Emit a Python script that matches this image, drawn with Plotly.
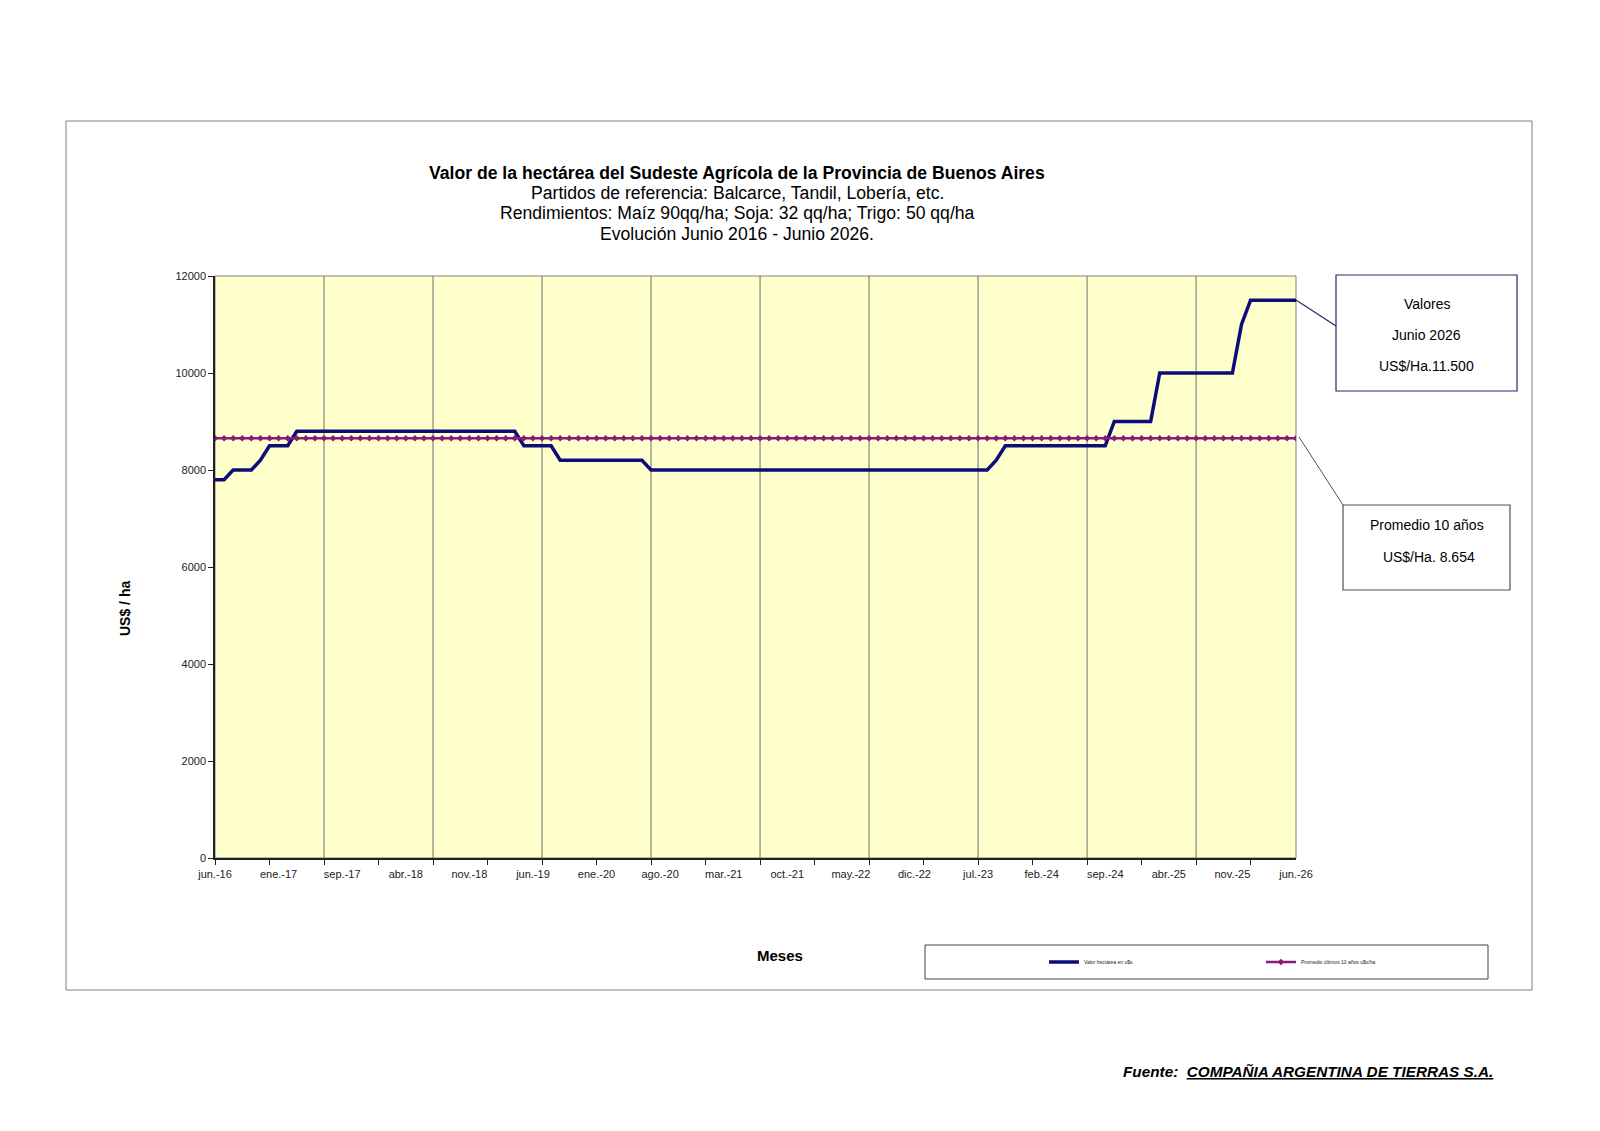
import plotly.graph_objects as go

# valor de la hectarea (US$/ha), un punto por mes desde jun-16 hasta jun-26
valor_ha = [
    7800, 7800, 8000, 8000, 8000, 8200, 8500, 8500, 8500, 8800, 8800, 8800,
    8800, 8800, 8800, 8800, 8800, 8800, 8800, 8800, 8800, 8800, 8800, 8800,
    8800, 8800, 8800, 8800, 8800, 8800, 8800, 8800, 8800, 8800, 8500, 8500,
    8500, 8500, 8200, 8200, 8200, 8200, 8200, 8200, 8200, 8200, 8200, 8200,
    8000, 8000, 8000, 8000, 8000, 8000, 8000, 8000, 8000, 8000, 8000, 8000,
    8000, 8000, 8000, 8000, 8000, 8000, 8000, 8000, 8000, 8000, 8000, 8000,
    8000, 8000, 8000, 8000, 8000, 8000, 8000, 8000, 8000, 8000, 8000, 8000,
    8000, 8000, 8200, 8500, 8500, 8500, 8500, 8500, 8500, 8500, 8500, 8500,
    8500, 8500, 8500, 9000, 9000, 9000, 9000, 9000, 10000, 10000, 10000, 10000,
    10000, 10000, 10000, 10000, 10000, 11000, 11500, 11500, 11500, 11500, 11500, 11500,
]
promedio_10 = 8654

etiquetas = ["jun.-16", "ene.-17", "sep.-17", "abr.-18", "nov.-18", "jun.-19",
             "ene.-20", "ago.-20", "mar.-21", "oct.-21", "may.-22", "dic.-22",
             "jul.-23", "feb.-24", "sep.-24", "abr.-25", "nov.-25", "jun.-26"]

nombres = ["Valor hectárea en u$s", "Promedio últimos 10 años u$s/ha"]

meses = list(range(len(valor_ha)))
promedio = [promedio_10] * len(meses)

# geometria de la pagina (pixeles -> coordenadas paper)
W, H = 1600, 1131
ML, MR, MT, MB = 215, 304, 276, 273


def px(x):
    return (x - ML) / (W - ML - MR)


def py(y):
    return (H - MB - y) / (H - MT - MB)


fig = go.Figure()
fig.add_trace(go.Scatter(x=meses, y=valor_ha, mode="lines", name=nombres[0],
                         line=dict(color="#0c0c7a", width=3.5)))
fig.add_trace(go.Scatter(x=meses, y=promedio, mode="lines+markers", name=nombres[1],
                         line=dict(color="#8a1a7a", width=2.5),
                         marker=dict(color="#8a1a7a", size=5, symbol="diamond")))

shapes = []
# recuadro general
shapes.append(dict(type="rect", xref="paper", yref="paper", x0=px(66), x1=px(1532),
                   y0=py(121), y1=py(990), line=dict(color="#7f7f7f", width=1), layer="below"))
# borde del area de grafico
shapes.append(dict(type="rect", xref="paper", yref="paper", x0=0, x1=1, y0=0, y1=1,
                   line=dict(color="#808080", width=1), layer="below"))
# lineas verticales cada 12 meses
for k in range(12, len(meses) - 1, 12):
    shapes.append(dict(type="line", xref="x", yref="paper", x0=k, x1=k, y0=0, y1=1,
                       line=dict(color="#6e6e6e", width=1), layer="below"))
# cuadros de texto
shapes.append(dict(type="rect", xref="paper", yref="paper", x0=px(1336), x1=px(1517),
                   y0=py(275), y1=py(391), line=dict(color="#1f2a66", width=1.2),
                   fillcolor="white"))
shapes.append(dict(type="line", xref="paper", yref="paper", x0=px(1296), x1=px(1336),
                   y0=py(300), y1=py(326), line=dict(color="#1f2a66", width=1.2)))
shapes.append(dict(type="rect", xref="paper", yref="paper", x0=px(1343), x1=px(1510),
                   y0=py(505), y1=py(590), line=dict(color="#5e4a60", width=1.2),
                   fillcolor="white"))
shapes.append(dict(type="line", xref="paper", yref="paper", x0=px(1299), x1=px(1343),
                   y0=py(437), y1=py(505), line=dict(color="#5e4a60", width=1)))
# recuadro de la leyenda
shapes.append(dict(type="rect", xref="paper", yref="paper", x0=px(925), x1=px(1488),
                   y0=py(945), y1=py(979), line=dict(color="#404040", width=1)))

font = "Arial, Liberation Sans, sans-serif"
annotations = []
titulo = [
    ("<b>Valor de la hectárea del Sudeste Agrícola de la Provincia de Buenos Aires</b>", 172.5),
    ("Partidos de referencia: Balcarce, Tandil, Lobería, etc.", 193),
    ("Rendimientos: Maíz 90qq/ha; Soja: 32 qq/ha; Trigo: 50 qq/ha", 213.5),
    ("Evolución Junio 2016 - Junio 2026.", 234),
]
for txt, yy in titulo:
    annotations.append(dict(text=txt, x=px(737), y=py(yy), xref="paper", yref="paper",
                            showarrow=False, xanchor="center", yanchor="middle",
                            font=dict(family=font, size=17.6, color="black")))

cuadros = [("Valores", 1426.5, 304), ("Junio 2026", 1426.5, 335),
           ("US$/Ha.11.500", 1426.5, 366), ("Promedio 10 años", 1426.5, 525),
           (" US$/Ha. 8.654", 1426.5, 557)]
for txt, xx, yy in cuadros:
    annotations.append(dict(text=txt, x=px(xx), y=py(yy), xref="paper", yref="paper",
                            showarrow=False, xanchor="center", yanchor="middle",
                            font=dict(family=font, size=14, color="black")))

annotations.append(dict(text="<b>US$ / ha</b>", x=px(125), y=py(609), xref="paper",
                        yref="paper", showarrow=False, textangle=-90,
                        xanchor="center", yanchor="middle",
                        font=dict(family=font, size=14, color="black")))
annotations.append(dict(text="<b>Meses</b>", x=px(780), y=py(955), xref="paper",
                        yref="paper", showarrow=False, xanchor="center", yanchor="middle",
                        font=dict(family=font, size=15, color="black")))
annotations.append(dict(text="<b><i>Fuente:  <u>COMPAÑIA ARGENTINA DE TIERRAS S.A.</u></i></b>",
                        x=px(1495), y=py(1071), xref="paper", yref="paper",
                        showarrow=False, xanchor="right", yanchor="middle",
                        font=dict(family=font, size=15.3, color="black")))

fig.update_layout(
    width=W, height=H,
    margin=dict(l=ML, r=MR, t=MT, b=MB, pad=0),
    paper_bgcolor="white",
    plot_bgcolor="#ffffcc",
    font=dict(family=font, color="black"),
    shapes=shapes,
    annotations=annotations,
    showlegend=True,
    legend=dict(orientation="h", x=px(1044), y=py(962), xanchor="left", yanchor="middle",
                bgcolor="rgba(0,0,0,0)", borderwidth=0, itemwidth=30,
                entrywidth=172, entrywidthmode="pixels",
                font=dict(family=font, size=5, color="#222")),
)
fig.update_xaxes(range=[0, len(meses) - 1], tickmode="array", tickvals=meses[::7],
                 ticktext=etiquetas, ticks="", ticklabelstandoff=5,
                 showgrid=False, zeroline=False, showline=True, linecolor="#202020",
                 linewidth=1.5, tickfont=dict(size=11, color="#222"),
                 minor=dict(tickmode="linear", tick0=0, dtick=6, ticks="outside",
                            ticklen=5, tickcolor="#202020", showgrid=False))
fig.update_yaxes(range=[0, 12000], dtick=2000, tickformat="d", ticks="outside",
                 ticklen=5, tickcolor="#202020", showgrid=False, zeroline=False,
                 showline=True, linecolor="#202020", linewidth=1.5,
                 tickfont=dict(size=11, color="#222"))

fig.write_html("out.html", config={"displayModeBar": False},
               post_script="document.body.style.margin='0';document.body.style.overflow='hidden';")
